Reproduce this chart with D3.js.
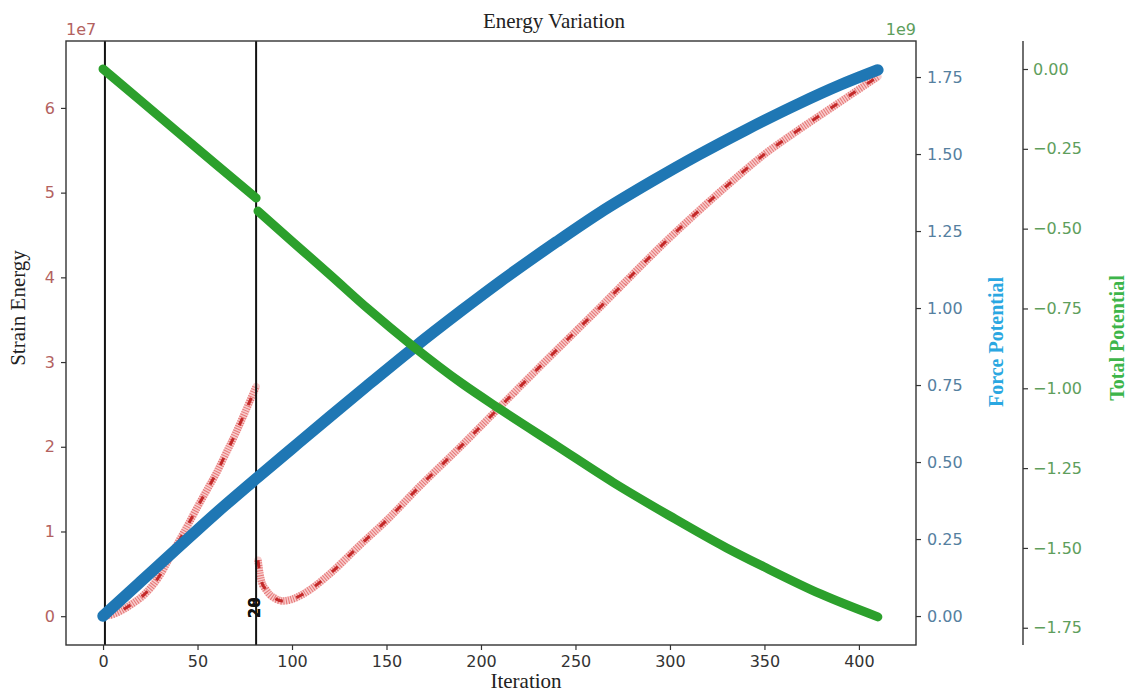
<!DOCTYPE html>
<html>
<head>
<meta charset="utf-8">
<script src="https://cdn.jsdelivr.net/npm/d3@7"></script>
<style>
  body { margin: 0; background: #fff; }
  svg { display: block; }
</style>
</head>
<body>
<svg id="chart" width="1127" height="695"></svg>
<script>
// Strain energy (units of 1e7); the series restarts after the reset iteration
const strainIter = [0, 5, 10, 15, 20, 25, 30, 35, 40, 45, 50, 55, 60, 65, 70, 75, 81,
  82, 83, 84, 86, 88, 91, 95, 100, 105, 110, 120, 136, 150, 167, 190, 210, 230, 260, 300, 325, 351, 370, 386, 402, 410];
const strainVal = [0, 0.02, 0.07, 0.14, 0.22, 0.33, 0.48, 0.68, 0.88, 1.08, 1.29, 1.49, 1.69, 1.92, 2.15, 2.40, 2.71,
  0.66, 0.50, 0.40, 0.32, 0.26, 0.21, 0.18, 0.20, 0.25, 0.32, 0.50, 0.84, 1.13, 1.52, 2.02, 2.47, 2.92, 3.58, 4.47, 4.98, 5.47, 5.77, 6.01, 6.25, 6.37];

// Force potential (units of 1e9)
const forceIter = [0, 20, 40, 60, 82, 100, 120, 140, 164, 190, 210, 240, 263, 290, 315, 340, 368, 390, 410];
const forceVal = [0, 0.112, 0.224, 0.335, 0.451, 0.544, 0.647, 0.749, 0.869, 0.993, 1.085, 1.215, 1.31, 1.41, 1.497, 1.578, 1.663, 1.724, 1.773];

// Total potential (units of 1e9)
const totalIter = [0, 20, 40, 60, 81, 82, 100, 120, 140, 164, 190, 210, 240, 270, 300, 330, 350, 380, 410];
const totalVal = [0, -0.10, -0.20, -0.30, -0.404, -0.445, -0.54, -0.644, -0.75, -0.868, -0.985, -1.065, -1.18, -1.295, -1.40, -1.50, -1.56, -1.645, -1.716];

const resetIteration = 82;
const markerIters = [1, 81];
const markerLabels = ["20", "28"];

const xTicks = [0, 50, 100, 150, 200, 250, 300, 350, 400];
const strainTicks = [0, 1, 2, 3, 4, 5, 6];
const forceTicks = [0, 0.25, 0.5, 0.75, 1.0, 1.25, 1.5, 1.75];
const totalTicks = [0, -0.25, -0.5, -0.75, -1.0, -1.25, -1.5, -1.75];

const C = {
  strainTick: "#b3625f",
  forceTick: "#55809f",
  totalTick: "#5e9e5c",
  blue: "#1f77b4",
  green: "#2ca02c",
  forceLabel: "#2aa7e1",
  totalLabel: "#3db54a",
  axis: "#333"
};

const plot = { left: 66, right: 916, top: 41, bottom: 645 };
const totalAxisX = 1023;

const svg = d3.select("#chart");

const x = d3.scaleLinear().domain([-19.6, 430.2]).range([plot.left, plot.right]);
const yStrain = d3.scaleLinear().domain([-0.34, 6.79]).range([plot.bottom, plot.top]);
const yForce = d3.scaleLinear().domain([-0.094, 1.867]).range([plot.bottom, plot.top]);
const yTotal = d3.scaleLinear().domain([-1.804, 0.0877]).range([plot.bottom, plot.top]);

const zip = (a, b) => a.map((d, i) => ({ it: d, v: b[i] }));
const strainData = zip(strainIter, strainVal);
const forceData = zip(forceIter, forceVal);
const totalData = zip(totalIter, totalVal);

const split = data => [data.filter(d => d.it < resetIteration), data.filter(d => d.it >= resetIteration)];

// Strain energy: pink hatched band with darker dashes
const strainLine = d3.line().x(d => x(d.it)).y(d => yStrain(d.v)).curve(d3.curveMonotoneX);
const strainG = svg.append("g");
split(strainData).forEach(seg => {
  strainG.append("path").attr("d", strainLine(seg))
    .attr("fill", "none").attr("stroke", "#f8cccc").attr("stroke-width", 7.5).attr("stroke-linecap", "round");
  strainG.append("path").attr("d", strainLine(seg))
    .attr("fill", "none").attr("stroke", "#e57676").attr("stroke-width", 7.5).attr("stroke-dasharray", "1,1.5");
  strainG.append("path").attr("d", strainLine(seg))
    .attr("fill", "none").attr("stroke", "#c42a2a").attr("stroke-width", 3).attr("stroke-dasharray", "8,14");
});

// Reference lines with their labels
markerIters.forEach(it => {
  svg.append("line")
    .attr("x1", x(it)).attr("x2", x(it))
    .attr("y1", plot.top).attr("y2", plot.bottom)
    .attr("stroke", "#111").attr("stroke-width", 2);
});
markerLabels.forEach(t => {
  const lx = x(markerIters[1]) - 1, ly = yStrain(0) + 2;
  svg.append("text")
    .attr("transform", `translate(${lx},${ly}) rotate(-90)`)
    .attr("text-anchor", "start").attr("dominant-baseline", "central")
    .attr("font-family", "DejaVu Sans").attr("font-weight", "bold").attr("font-size", 15)
    .attr("fill", "#111").text(t);
});

// Force potential
const forceLine = d3.line().x(d => x(d.it)).y(d => yForce(d.v)).curve(d3.curveMonotoneX);
svg.append("path").attr("d", forceLine(forceData))
  .attr("fill", "none").attr("stroke", C.blue).attr("stroke-width", 11.5)
  .attr("stroke-linecap", "round").attr("stroke-linejoin", "round");

// Total potential
const totalLine = d3.line().x(d => x(d.it)).y(d => yTotal(d.v)).curve(d3.curveMonotoneX);
split(totalData).forEach(seg => {
  svg.append("path").attr("d", totalLine(seg))
    .attr("fill", "none").attr("stroke", C.green).attr("stroke-width", 9)
    .attr("stroke-linecap", "round").attr("stroke-linejoin", "round");
});

// Frame
svg.append("rect")
  .attr("x", plot.left).attr("y", plot.top)
  .attr("width", plot.right - plot.left).attr("height", plot.bottom - plot.top)
  .attr("fill", "none").attr("stroke", C.axis).attr("stroke-width", 1.4);

function styleAxis(g, color) {
  g.select(".domain").remove();
  g.selectAll(".tick line").attr("stroke", C.axis).attr("stroke-width", 1.2);
  g.selectAll(".tick text").attr("fill", color)
    .attr("font-family", "DejaVu Sans").attr("font-size", 16);
}

svg.append("g").attr("transform", `translate(0,${plot.bottom})`)
  .call(d3.axisBottom(x).tickValues(xTicks).tickSize(5).tickPadding(6).tickFormat(d3.format("d")))
  .call(g => styleAxis(g, "#333"));

svg.append("g").attr("transform", `translate(${plot.left},0)`)
  .call(d3.axisLeft(yStrain).tickValues(strainTicks).tickSize(5).tickPadding(6).tickFormat(d3.format("d")))
  .call(g => styleAxis(g, C.strainTick));

svg.append("g").attr("transform", `translate(${plot.right},0)`)
  .call(d3.axisRight(yForce).tickValues(forceTicks).tickSize(5).tickPadding(6).tickFormat(d3.format(".2f")))
  .call(g => styleAxis(g, C.forceTick));

svg.append("line")
  .attr("x1", totalAxisX).attr("x2", totalAxisX)
  .attr("y1", plot.top).attr("y2", plot.bottom)
  .attr("stroke", C.axis).attr("stroke-width", 1.4);
svg.append("g").attr("transform", `translate(${totalAxisX},0)`)
  .call(d3.axisRight(yTotal).tickValues(totalTicks).tickSize(5).tickPadding(5).tickFormat(d3.format(".2f")))
  .call(g => styleAxis(g, C.totalTick));

// Scale multipliers
svg.append("text").attr("x", plot.left).attr("y", 35)
  .attr("font-family", "DejaVu Sans").attr("font-size", 16).attr("fill", C.strainTick).text("1e7");
svg.append("text").attr("x", plot.right).attr("y", 35).attr("text-anchor", "end")
  .attr("font-family", "DejaVu Sans").attr("font-size", 16).attr("fill", C.totalTick).text("1e9");

// Titles
const serif = "Liberation Serif";
svg.append("text").attr("x", 554).attr("y", 28).attr("text-anchor", "middle")
  .attr("font-family", serif).attr("font-size", 21).attr("fill", "#222").text("Energy Variation");
svg.append("text").attr("x", 526).attr("y", 688).attr("text-anchor", "middle")
  .attr("font-family", serif).attr("font-size", 21).attr("fill", "#222").text("Iteration");
svg.append("text").attr("transform", "translate(25,308) rotate(-90)").attr("text-anchor", "middle")
  .attr("font-family", serif).attr("font-size", 21).attr("fill", "#222").text("Strain Energy");
svg.append("text").attr("transform", "translate(1003,342) rotate(-90)").attr("text-anchor", "middle")
  .attr("font-family", serif).attr("font-weight", "bold").attr("font-size", 20).attr("fill", C.forceLabel).text("Force Potential");
svg.append("text").attr("transform", "translate(1124,338) rotate(-90)").attr("text-anchor", "middle")
  .attr("font-family", serif).attr("font-weight", "bold").attr("font-size", 20).attr("fill", C.totalLabel).text("Total Potential");
</script>
</body>
</html>
